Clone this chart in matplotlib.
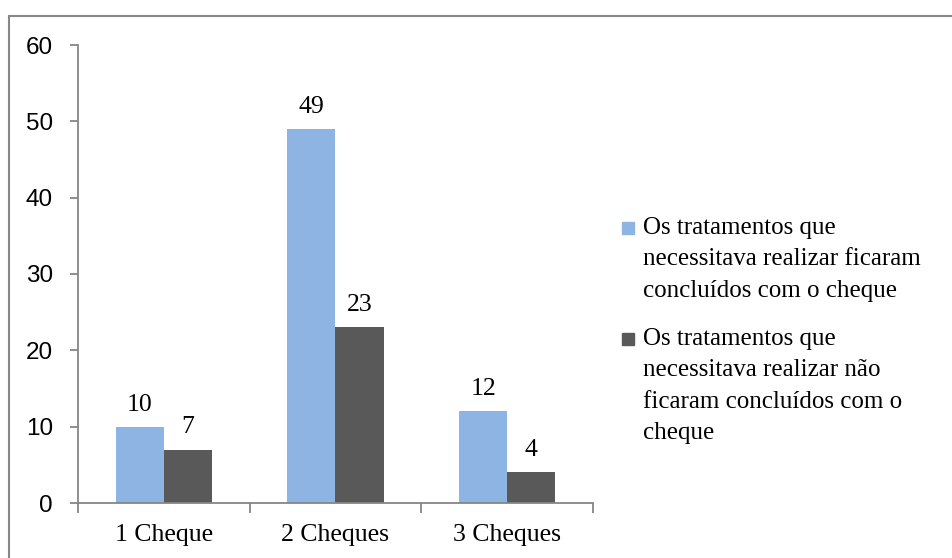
import matplotlib as mpl
mpl.use('Agg')
import matplotlib.pyplot as plt
from matplotlib.patches import Rectangle
import numpy as np

categorias = ['1 Cheque', '2 Cheques', '3 Cheques']
concluidos = [10, 49, 12]
nao_concluidos = [7, 23, 4]
series_labels = ['Os tratamentos que\nnecessitava realizar ficaram\nconcluídos com o cheque',
                 'Os tratamentos que\nnecessitava realizar não\nficaram concluídos com o\ncheque']
y_ticks = [0, 10, 20, 30, 40, 50, 60]

azul = '#8EB4E3'
cinza = '#595959'
eixo = '#868686'
serif = 'Liberation Serif'

fig = plt.figure(figsize=(9.53, 5.58), dpi=100)
ax = fig.add_axes([78 / 953, 1 - 503 / 558, (593 - 78) / 953, (503 - 45) / 558])

x = np.arange(len(categorias))
w = 0.28
b1 = ax.bar(x - w / 2, concluidos, w, color=azul)
b2 = ax.bar(x + w / 2, nao_concluidos, w, color=cinza)
for bars in (b1, b2):
    ax.bar_label(bars, padding=8, fontsize=18.5, family=serif)

ax.set_xlim(-0.5, len(categorias) - 0.5)
ax.set_ylim(0, 60)
ax.set_yticks(y_ticks)
ax.set_xticks(x)
ax.set_xticklabels(categorias, fontsize=18.5, family=serif)
ax.set_xticks(np.arange(len(categorias) + 1) - 0.5, minor=True)
ax.tick_params(axis='x', which='major', length=0, pad=15)
ax.tick_params(axis='x', which='minor', length=7, color=eixo, width=1.3)
ax.tick_params(axis='y', length=6, color=eixo, width=1.3, pad=12, labelsize=17.5)
for t in ax.get_yticklabels():
    t.set_family('Liberation Sans')

for s in ['top', 'right']:
    ax.spines[s].set_visible(False)
for s in ['left', 'bottom']:
    ax.spines[s].set_color(eixo)
    ax.spines[s].set_linewidth(1.3)

# legenda feita a mao (quadrado alinhado com a primeira linha)
leg_y = [217, 328]
for cor, lab, yy in zip([azul, cinza], series_labels, leg_y):
    fig.patches.append(Rectangle((622 / 953, 1 - (yy + 17) / 558), 12 / 953, 12 / 558,
                                 transform=fig.transFigure, color=cor))
    fig.text(643 / 953, 1 - yy / 558, lab, fontsize=18, family=serif,
             va='top', ha='left', linespacing=1.55)

# borda do grafico
fig.patches.append(Rectangle((9 / 953, -0.1), 1.2, 1.1 - 16 / 558, transform=fig.transFigure,
                             fill=False, edgecolor='#878787', linewidth=1.5))

plt.savefig('out.png', dpi=100)
